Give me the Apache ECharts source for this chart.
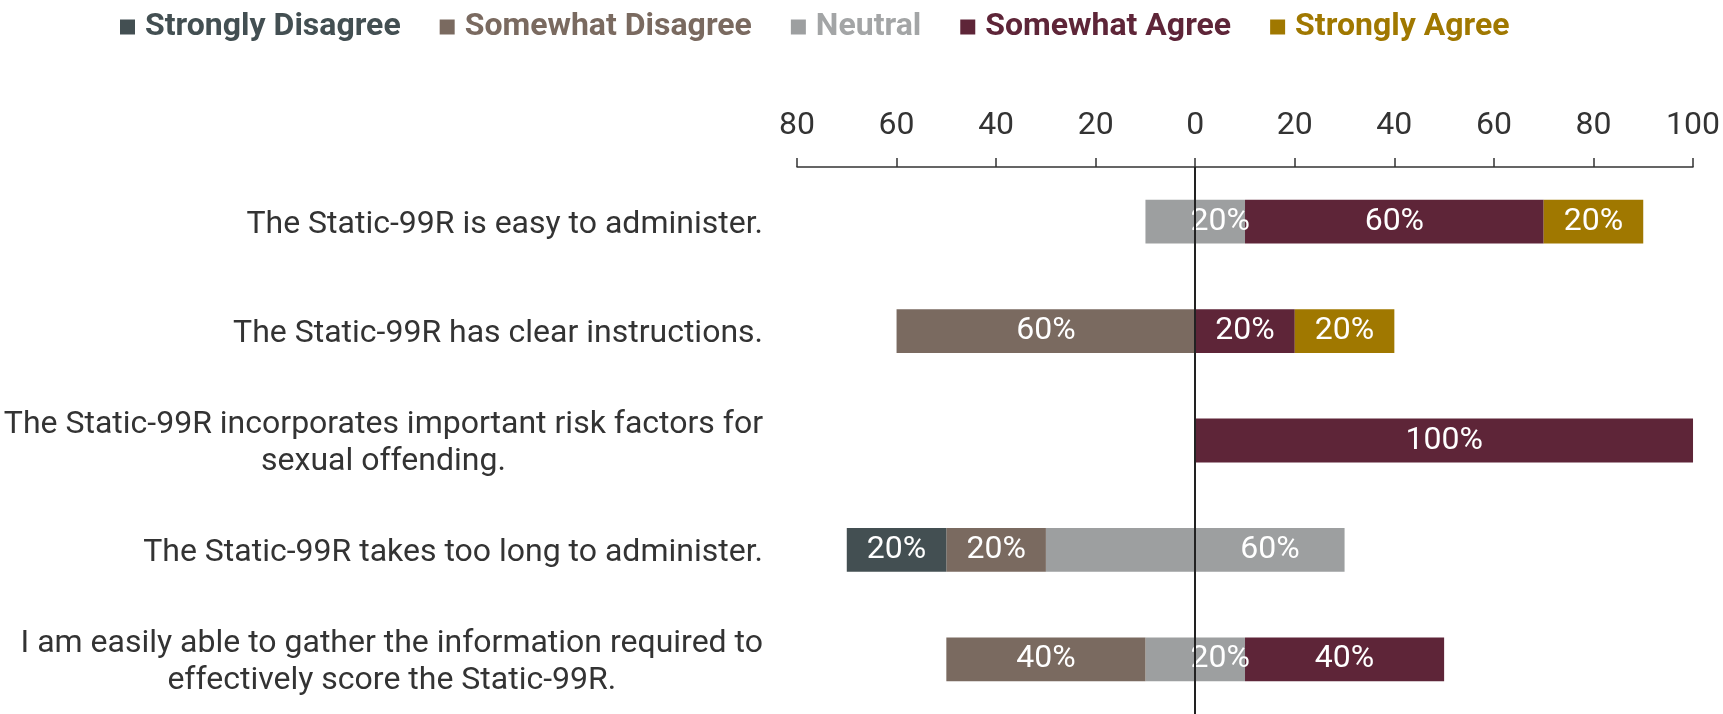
<!DOCTYPE html>
<html>
<head>
<meta charset="utf-8">
<script src="https://cdn.jsdelivr.net/npm/echarts@6/dist/echarts.min.js"></script>
<style>
html,body{margin:0;padding:0;background:#fff;}
#chart{width:1723px;height:714px;}
</style>
</head>
<body>
<div id="chart"></div>
<script>
const categories = [
  "The Static-99R is easy to administer.",
  "The Static-99R has clear instructions.",
  "The Static-99R incorporates important risk factors for\nsexual offending.",
  "The Static-99R takes too long to administer.",
  "I am easily able to gather the information required to\neffectively score the Static-99R."
];
const stronglyDisagree = [0, 0, 0, 20, 0];
const somewhatDisagree = [0, 60, 0, 20, 40];
const neutral = [20, 0, 0, 60, 20];
const somewhatAgree = [60, 20, 100, 0, 40];
const stronglyAgree = [20, 20, 0, 0, 0];
const xTicks = { min: -80, max: 100, interval: 20 };

const colors = {
  sd: '#434f52',
  swd: '#7a6a60',
  neu: '#9d9fa0',
  swa: '#5e2538',
  sa: '#a07800'
};
const legendColors = {
  sd: '#434f52',
  swd: '#7a6a60',
  neu: '#a3a5a6',
  swa: '#5e2538',
  sa: '#a07800'
};
const FS = 32;

function barSeries(name, color, values, raw, showLabel) {
  return {
    name: name,
    type: 'bar',
    stack: 'total',
    barWidth: '40%',
    itemStyle: { color: color },
    label: {
      show: showLabel,
      position: 'inside',
      color: '#ffffff',
      fontSize: FS,
      fontFamily: 'Roboto',
      formatter: function (p) {
        const v = raw[p.dataIndex];
        return v ? v + '%' : '';
      }
    },
    emphasis: { disabled: true },
    data: values
  };
}

const neg = a => a.map(v => -v);
const half = a => a.map(v => v / 2);

const series = [
  barSeries('Neutral', colors.neu, neg(half(neutral)), neutral, false),
  barSeries('Somewhat Disagree', colors.swd, neg(somewhatDisagree), somewhatDisagree, true),
  barSeries('Strongly Disagree', colors.sd, neg(stronglyDisagree), stronglyDisagree, true),
  barSeries('Neutral', colors.neu, half(neutral), neutral, true),
  barSeries('Somewhat Agree', colors.swa, somewhatAgree, somewhatAgree, true),
  barSeries('Strongly Agree', colors.sa, stronglyAgree, stronglyAgree, true)
];
series[0].markLine = {
  silent: true,
  symbol: 'none',
  label: { show: false },
  lineStyle: { color: '#222', width: 2, type: 'solid' },
  data: [{ xAxis: 0 }]
};

const chart = echarts.init(document.getElementById('chart'));
chart.setOption({
  animation: false,
  textStyle: { fontFamily: 'Roboto' },
  legend: {
    left: 115,
    top: 6,
    icon: 'rect',
    itemWidth: 15,
    itemHeight: 15,
    itemGap: 39,
    selectedMode: false,
    textStyle: { fontSize: FS, fontWeight: 'bold', fontFamily: 'Roboto', padding: [0, 0, 0, 5] },
    data: [
      { name: 'Strongly Disagree', textStyle: { color: legendColors.sd } },
      { name: 'Somewhat Disagree', textStyle: { color: legendColors.swd } },
      { name: 'Neutral', textStyle: { color: legendColors.neu } },
      { name: 'Somewhat Agree', textStyle: { color: legendColors.swa } },
      { name: 'Strongly Agree', textStyle: { color: legendColors.sa } }
    ]
  },
  grid: { left: 797, right: 28, top: 167, height: 549, containLabel: false },
  xAxis: {
    type: 'value',
    position: 'top',
    min: xTicks.min,
    max: xTicks.max,
    interval: xTicks.interval,
    splitLine: { show: false },
    axisLine: { show: true, lineStyle: { color: '#333', width: 1.5 } },
    axisTick: { show: true, length: 9, lineStyle: { color: '#333', width: 1.5 } },
    axisLabel: {
      color: '#333',
      fontSize: FS,
      margin: 25,
      formatter: v => String(Math.abs(v))
    }
  },
  yAxis: {
    type: 'category',
    inverse: true,
    data: categories,
    axisLine: { show: false },
    axisTick: { show: false },
    axisLabel: {
      margin: 34,
      color: '#333',
      fontSize: FS,
      align: 'right',
      padding: [6, 0, 0, 0],
      formatter: v => v.split('\n').map(l => '{c|' + l + '}').join('\n'),
      rich: {
        c: { align: 'center', fontSize: FS, lineHeight: 37, color: '#333', fontFamily: 'Roboto' }
      }
    }
  },
  series: series
});
</script>
</body>
</html>
